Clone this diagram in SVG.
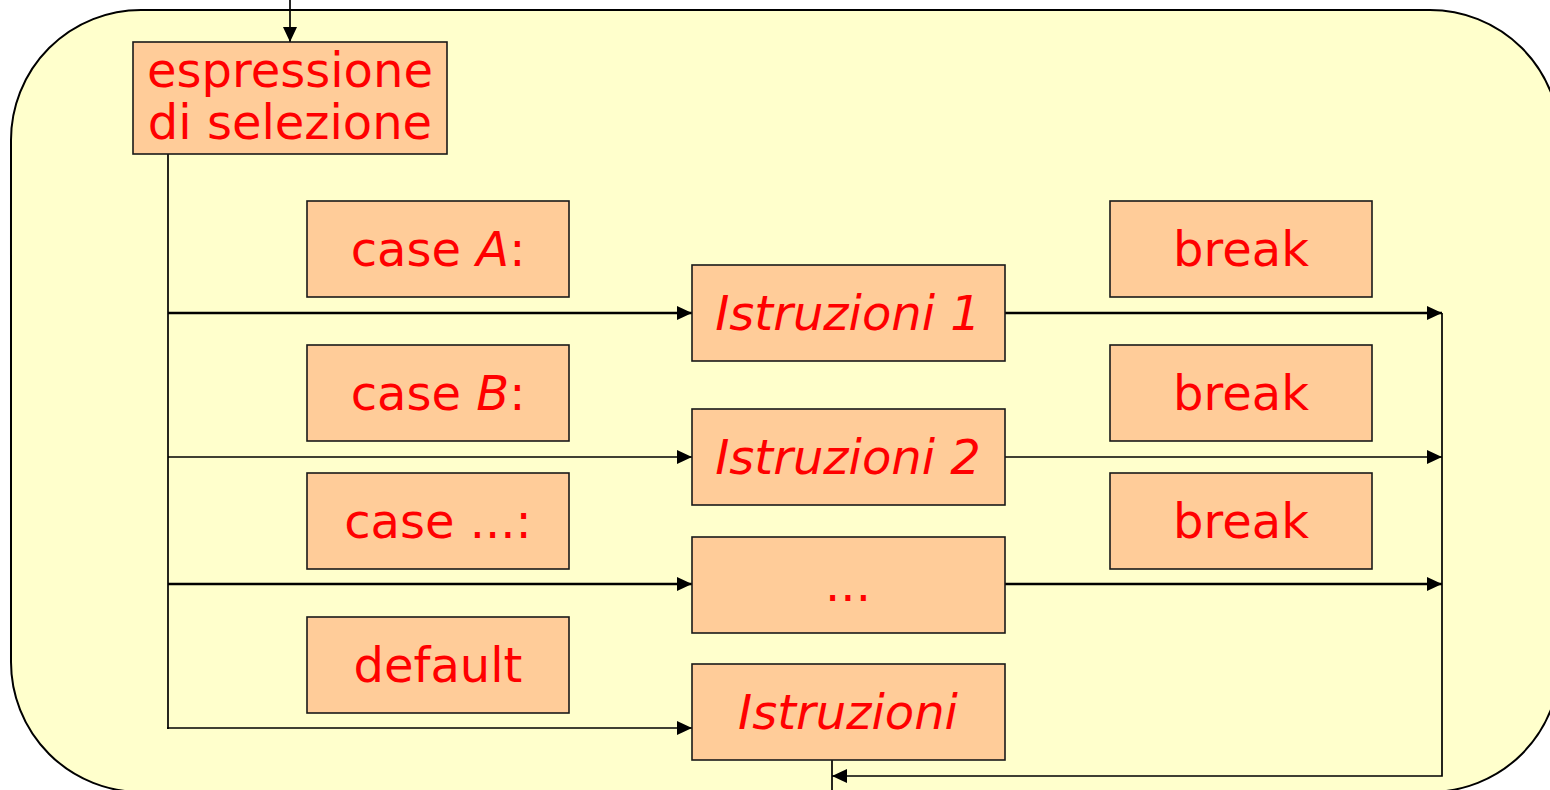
<svg xmlns="http://www.w3.org/2000/svg" width="1550" height="790" viewBox="0 0 1550 790">
<style>
.box{fill:#FFCC99;stroke:#1a1a1a;stroke-width:1.6}
.t{font-family:"DejaVu Sans","Verdana","Liberation Sans",sans-serif;font-size:48px;fill:#FF0000;text-anchor:middle}
.i{font-style:italic}
.c{fill:none;stroke:#000;stroke-width:1.7}
.k{stroke-width:2.7}
</style>
<defs>
<marker id="ah" markerUnits="userSpaceOnUse" markerWidth="16" markerHeight="14" refX="15" refY="7" orient="auto">
<path d="M0,0 L15,7 L0,14 Z" fill="#000"/>
</marker>
</defs>
<rect width="1550" height="790" fill="#fff"/>
<rect id="frame" x="11" y="10" width="1549" height="782" rx="130" ry="130" fill="#FFFFCC" stroke="#000" stroke-width="2"/>
<g id="connectors">
<line class="c" x1="290" y1="0" x2="290" y2="42" marker-end="url(#ah)"/>
<line class="c" x1="168" y1="154" x2="168" y2="729" stroke-width="2"/>
<line class="c k" x1="168" y1="313" x2="692" y2="313" marker-end="url(#ah)"/>
<line class="c" x1="168" y1="457" x2="692" y2="457" marker-end="url(#ah)"/>
<line class="c k" x1="168" y1="584" x2="692" y2="584" marker-end="url(#ah)"/>
<line class="c" x1="167" y1="728" x2="692" y2="728" marker-end="url(#ah)"/>
<line class="c k" x1="1005" y1="313" x2="1442" y2="313" marker-end="url(#ah)"/>
<line class="c" x1="1005" y1="457" x2="1442" y2="457" marker-end="url(#ah)"/>
<line class="c k" x1="1005" y1="584" x2="1442" y2="584" marker-end="url(#ah)"/>
<polyline class="c" points="1442,313 1442,776 832,776" marker-end="url(#ah)"/>
<line class="c" x1="832" y1="760" x2="832" y2="790" stroke-width="2"/>
</g>
<g id="n-espr"><rect class="box" x="133" y="42" width="314" height="112"/><text class="t" x="290" y="87">espressione</text><text class="t" x="290" y="139">di selezione</text></g>
<g id="n-caseA"><rect class="box" x="307" y="201" width="262" height="96"/><text class="t" x="438" y="266">case <tspan class="i">A</tspan>:</text></g>
<g id="n-break1"><rect class="box" x="1110" y="201" width="262" height="96"/><text class="t" x="1241" y="266">break</text></g>
<g id="n-istr1"><rect class="box" x="692" y="265" width="313" height="96"/><text class="t i" x="848" y="330">Istruzioni 1</text></g>
<g id="n-caseB"><rect class="box" x="307" y="345" width="262" height="96"/><text class="t" x="438" y="410">case <tspan class="i">B</tspan>:</text></g>
<g id="n-break2"><rect class="box" x="1110" y="345" width="262" height="96"/><text class="t" x="1241" y="410">break</text></g>
<g id="n-istr2"><rect class="box" x="692" y="409" width="313" height="96"/><text class="t i" x="848" y="474">Istruzioni 2</text></g>
<g id="n-casedots"><rect class="box" x="307" y="473" width="262" height="96"/><text class="t" x="438" y="538">case ...:</text></g>
<g id="n-break3"><rect class="box" x="1110" y="473" width="262" height="96"/><text class="t" x="1241" y="538">break</text></g>
<g id="n-dots"><rect class="box" x="692" y="537" width="313" height="96"/><text class="t" x="848" y="601">...</text></g>
<g id="n-default"><rect class="box" x="307" y="617" width="262" height="96"/><text class="t" x="438" y="682">default</text></g>
<g id="n-istr"><rect class="box" x="692" y="664" width="313" height="96"/><text class="t i" x="848" y="729">Istruzioni</text></g>
</svg>
